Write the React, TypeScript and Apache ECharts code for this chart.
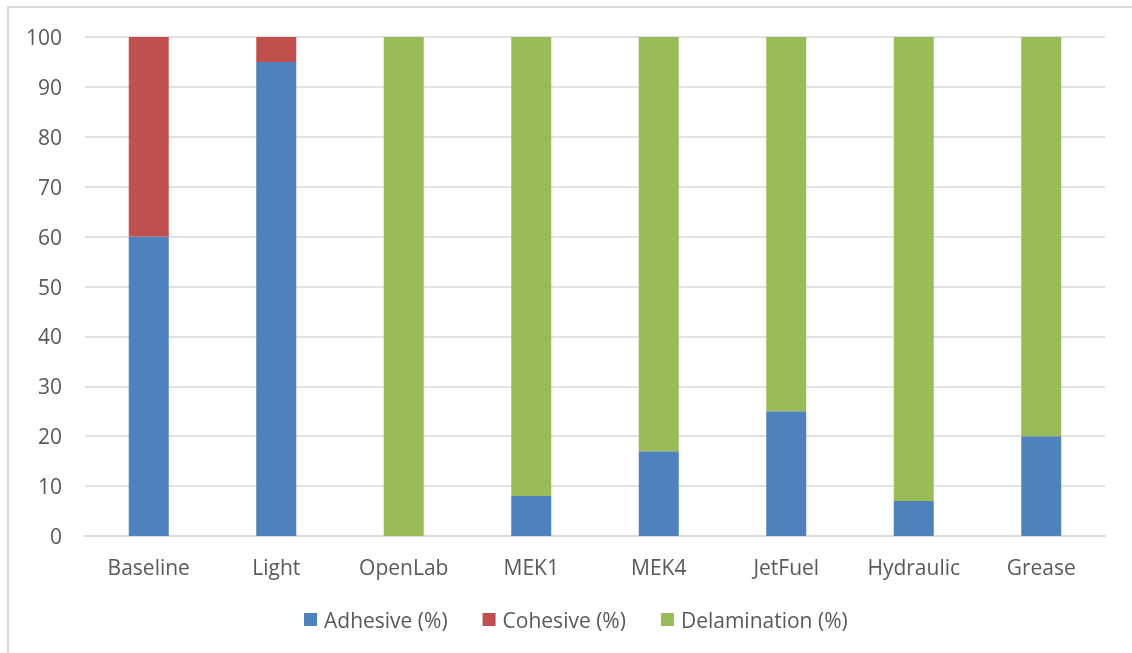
import React, { useEffect, useRef } from "react";
import * as echarts from "echarts";

const categories = ["Baseline", "Light", "OpenLab", "MEK1", "MEK4", "JetFuel", "Hydraulic", "Grease"];
const adhesive = [60, 95, 0, 8, 17, 25, 7, 20];
const cohesive = [40, 5, 0, 0, 0, 0, 0, 0];
const delamination = [0, 0, 100, 92, 83, 75, 93, 80];

const seriesNames = ["Adhesive (%)", "Cohesive (%)", "Delamination (%)"];
const seriesColors = ["#4F81BD", "#C0504D", "#9BBB59"];

const FONT = "'Open Sans', sans-serif";
const TEXT = "#595959";
const GRID = "#D9D9D9";

export default function App() {
  const ref = useRef<HTMLDivElement>(null);

  useEffect(() => {
    if (!ref.current) return;
    const chart = echarts.init(ref.current, null, { renderer: "svg" });
    const values = [adhesive, cohesive, delamination];
    chart.setOption({
      animation: false,
      textStyle: { fontFamily: FONT },
      grid: { left: 85, right: 27, top: 37, bottom: 117 },
      legend: {
        bottom: 18,
        left: 299,
        itemWidth: 13,
        itemHeight: 13,
        itemGap: 35,
        icon: "rect",
        textStyle: { color: TEXT, fontSize: 21, fontFamily: FONT, padding: [0, 0, 0, 2] },
        data: seriesNames,
      },
      xAxis: {
        type: "category",
        data: categories,
        axisLine: { show: true, lineStyle: { color: GRID, width: 1.5 } },
        axisTick: { show: false },
        axisLabel: { color: TEXT, fontSize: 21, fontFamily: FONT, margin: 20 },
      },
      yAxis: {
        type: "value",
        min: 0,
        max: 100,
        interval: 10,
        axisLine: { show: false },
        axisTick: { show: false },
        splitLine: { lineStyle: { color: GRID, width: 1.5 } },
        axisLabel: { color: TEXT, fontSize: 21, fontFamily: FONT, margin: 23 },
      },
      series: seriesNames.map((name, i) => ({
        name,
        type: "bar",
        stack: "total",
        barWidth: 40,
        data: values[i],
        itemStyle: { color: seriesColors[i] },
      })),
    });
    return () => chart.dispose();
  }, []);

  return (
    <>
      <div
        style={{
          position: "fixed",
          left: 7,
          top: 6,
          width: 1140,
          height: 660,
          borderTop: "2px solid #D9D9D9",
          borderLeft: "2px solid #D9D9D9",
          pointerEvents: "none",
        }}
      />
      <div ref={ref} style={{ position: "fixed", left: 0, top: 0, width: 1132, height: 653 }} />
    </>
  );
}
